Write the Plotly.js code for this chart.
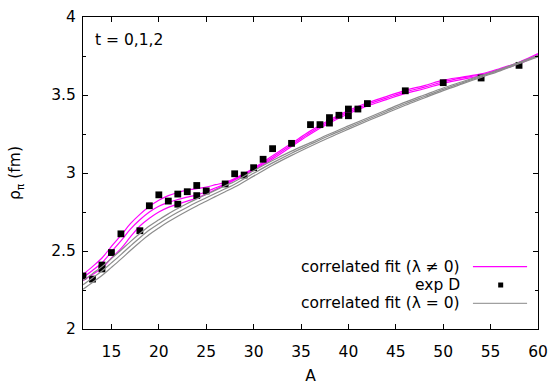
<!DOCTYPE html>
<html>
<head>
<meta charset="utf-8">
<script src="https://cdn.plot.ly/plotly-3.0.1.min.js"></script>
<style>html,body{margin:0;padding:0;background:#fff;}#chart{width:552px;height:385px;}</style>
</head>
<body>
<div id="chart"></div>
<script>
// Fit curves (sampled along A)
const curveA = [12,13,14,15,16,17,18,19,20,21,22,23,24,25,26,27,28,30,32,34,36,38,40,42,44,46,48,50,52,54,56,58,60];
const fitLam1 = [2.35,2.40,2.455,2.53,2.60,2.675,2.735,2.785,2.825,2.855,2.875,2.89,2.90,2.91,2.925,2.94,2.965,3.03,3.11,3.19,3.27,3.34,3.40,3.45,3.49,3.53,3.56,3.595,3.615,3.635,3.67,3.71,3.765];
const fitLam2 = [2.33,2.375,2.425,2.495,2.565,2.64,2.70,2.75,2.787,2.812,2.83,2.845,2.86,2.88,2.905,2.93,2.96,3.025,3.10,3.18,3.26,3.33,3.39,3.44,3.48,3.52,3.55,3.585,3.61,3.63,3.665,3.705,3.76];
const fitLam3 = [2.31,2.35,2.39,2.455,2.515,2.59,2.66,2.71,2.75,2.78,2.80,2.82,2.84,2.865,2.895,2.925,2.955,3.02,3.09,3.17,3.25,3.32,3.38,3.43,3.47,3.51,3.54,3.575,3.60,3.625,3.66,3.70,3.755];
const fitZero1 = [2.31,2.355,2.40,2.452,2.505,2.56,2.612,2.66,2.70,2.738,2.772,2.804,2.834,2.862,2.89,2.918,2.946,3.015,3.08,3.14,3.195,3.25,3.302,3.353,3.404,3.454,3.50,3.545,3.585,3.625,3.665,3.71,3.755];
const fitZero2 = [2.283,2.327,2.372,2.424,2.477,2.532,2.585,2.634,2.675,2.713,2.748,2.781,2.812,2.841,2.87,2.899,2.928,2.998,3.065,3.127,3.184,3.24,3.292,3.343,3.394,3.444,3.49,3.536,3.578,3.619,3.66,3.705,3.75];
const fitZero3 = [2.255,2.298,2.343,2.395,2.448,2.503,2.556,2.606,2.648,2.687,2.723,2.757,2.789,2.819,2.85,2.88,2.91,2.98,3.05,3.113,3.172,3.228,3.281,3.333,3.384,3.434,3.481,3.528,3.571,3.613,3.655,3.70,3.745];

// Experimental data (exp D)
const expA   = [12,13,14,14,15,16,18,19,20,21,22,22,23,24,24,25,27,28,29,30,31,32,34,36,37,38,38,39,40,40,41,42,46,50,54,58];
const expRho = [2.34,2.32,2.41,2.385,2.49,2.61,2.63,2.79,2.86,2.82,2.80,2.865,2.88,2.92,2.855,2.885,2.93,2.995,2.987,3.034,3.088,3.156,3.19,3.31,3.31,3.355,3.32,3.37,3.41,3.367,3.41,3.445,3.527,3.579,3.609,3.69];

const xTicks = [15,20,25,30,35,40,45,50,55,60];
const yTicks = [2,2.5,3,3.5,4];
const yTickText = ['2','2.5','3','3.5','4'];
const legendLabels = ['correlated fit (λ ≠ 0)', 'exp D', 'correlated fit (λ = 0)'];

const MAG = '#ff00ff', GRY = '#8c8c8c';
const FONT = '"DejaVu Sans", "Liberation Sans", Arial, sans-serif';
const FS = 15.5;

function line(y, color) {
  return {x: curveA, y: y, type: 'scatter', mode: 'lines',
          line: {color: color, width: 1.2, shape: 'spline', smoothing: 1},
          showlegend: false, hoverinfo: 'skip'};
}

const traces = [
  line(fitLam1, MAG), line(fitLam2, MAG), line(fitLam3, MAG),
  {x: expA, y: expRho, type: 'scatter', mode: 'markers',
   marker: {symbol: 'square', size: 6.8, color: '#000'}, showlegend: false},
  line(fitZero1, GRY), line(fitZero2, GRY), line(fitZero3, GRY)
];

const axisCommon = {showline: true, linecolor: '#000', linewidth: 1, mirror: 'ticks',
  ticks: 'inside', ticklen: 5, tickcolor: '#000', tickwidth: 1, showgrid: false, zeroline: false,
  tickfont: {family: FONT, size: FS, color: '#000'}};

const layout = {
  width: 552, height: 385,
  margin: {l: 83, r: 14, t: 17, b: 56},
  paper_bgcolor: '#fff', plot_bgcolor: '#fff',
  font: {family: FONT, size: FS, color: '#000'},
  xaxis: Object.assign({}, axisCommon, {range: [12, 60], tickvals: xTicks, ticktext: xTicks.map(String),
    ticklabelstandoff: 8,
    title: {text: 'A', font: {family: FONT, size: FS}, standoff: 12}}),
  yaxis: Object.assign({}, axisCommon, {range: [2, 4], tickvals: yTicks, ticktext: yTickText,
    ticklabelstandoff: 3,
    minor: {dtick: 0.25, ticks: 'inside', ticklen: 3, tickcolor: '#000'},
    title: {text: 'ρ<sub>π</sub> (fm)', font: {family: FONT, size: FS}, standoff: 26}}),
  showlegend: false,
  annotations: [
    {xref: 'paper', yref: 'paper', x: 0.022, y: 0.926, xanchor: 'left', yanchor: 'middle',
     text: 't = 0,1,2', showarrow: false, font: {family: FONT, size: FS}},
    {xref: 'paper', yref: 'paper', x: 0.832, y: 0.200, xanchor: 'right', yanchor: 'middle', showarrow: false,
     text: legendLabels[0], font: {family: FONT, size: FS}},
    {xref: 'paper', yref: 'paper', x: 0.832, y: 0.141, xanchor: 'right', yanchor: 'middle', showarrow: false,
     text: legendLabels[1], font: {family: FONT, size: FS}},
    {xref: 'paper', yref: 'paper', x: 0.832, y: 0.082, xanchor: 'right', yanchor: 'middle', showarrow: false,
     text: legendLabels[2], font: {family: FONT, size: FS}}
  ],
  shapes: [
    {type: 'line', xref: 'paper', yref: 'paper', x0: 0.857, x1: 0.976, y0: 0.200, y1: 0.200, line: {color: MAG, width: 1.2}},
    {type: 'rect', xref: 'paper', yref: 'paper', xsizemode: 'pixel', ysizemode: 'pixel',
     xanchor: 0.918, yanchor: 0.141, x0: -2.5, x1: 2.5, y0: -2.5, y1: 2.5, fillcolor: '#000', line: {width: 0}},
    {type: 'line', xref: 'paper', yref: 'paper', x0: 0.857, x1: 0.976, y0: 0.082, y1: 0.082, line: {color: '#a0a0a0', width: 1.2}}
  ]
};

Plotly.newPlot('chart', traces, layout, {displayModeBar: false, staticPlot: true});
</script>
</body>
</html>
